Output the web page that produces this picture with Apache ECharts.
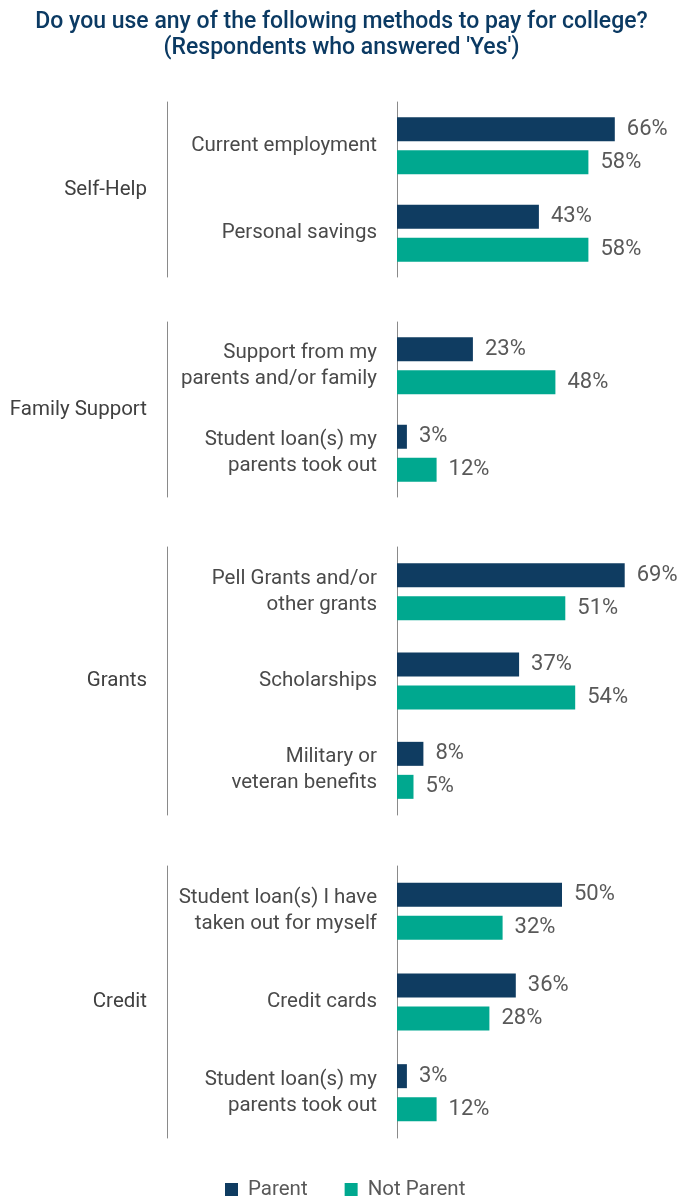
<!DOCTYPE html>
<html>
<head>
<meta charset="utf-8">
<script src="https://cdn.jsdelivr.net/npm/echarts@6/dist/echarts.min.js"></script>
<style>
html,body{margin:0;padding:0;background:#fff;}
#c{width:683px;height:1199px;}
</style>
</head>
<body>
<div id="c"></div>
<script>
// ---- data ----
const titleText = "Do you use any of the following methods to pay for college?\n(Respondents who answered 'Yes')";
const seriesNames = ['Parent', 'Not Parent'];
const groupNames = ['Self-Help', 'Family Support', 'Grants', 'Credit'];

const selfHelpCats = ['Current employment', 'Personal savings'];
const selfHelpParent = [66, 43];
const selfHelpNotParent = [58, 58];

const familyCats = ['Support from my\nparents and/or family', 'Student loan(s) my\nparents took out'];
const familyParent = [23, 3];
const familyNotParent = [48, 12];

const grantsCats = ['Pell Grants and/or\nother grants', 'Scholarships', 'Military or\nveteran benefits'];
const grantsParent = [69, 37, 8];
const grantsNotParent = [51, 54, 5];

const creditCats = ['Student loan(s) I have\ntaken out for myself', 'Credit cards', 'Student loan(s) my\nparents took out'];
const creditParent = [50, 36, 3];
const creditNotParent = [32, 28, 12];

// ---- layout / style ----
const FONT = 'Roboto';
const NAVY = '#0f3c61';
const TEAL = '#00a88f';
const LINE = '#8a8a8a';

const groups = [
  { name: groupNames[0], cats: selfHelpCats, p: selfHelpParent, np: selfHelpNotParent, top: 102, height: 175 },
  { name: groupNames[1], cats: familyCats, p: familyParent, np: familyNotParent, top: 322, height: 175 },
  { name: groupNames[2], cats: grantsCats, p: grantsParent, np: grantsNotParent, top: 547, height: 268 },
  { name: groupNames[3], cats: creditCats, p: creditParent, np: creditNotParent, top: 866, height: 272 }
];

const grid = [], xAxis = [], yAxis = [], series = [];
groups.forEach((g, i) => {
  grid.push({ left: 397, width: 264, top: g.top, height: g.height, outerBoundsMode: 'none', containLabel: false });
  xAxis.push({ gridIndex: i, type: 'value', min: 0, max: 80, show: false, splitLine: { show: false } });
  yAxis.push({
    gridIndex: i, type: 'category', data: g.cats, inverse: true, position: 'left',
    axisLine: { show: true, lineStyle: { color: LINE, width: 1 } },
    axisTick: { show: false },
    axisLabel: { margin: 20, fontFamily: FONT, fontSize: 20.5, color: '#4a4a4a', lineHeight: 26, align: 'right' }
  });
  yAxis.push({
    gridIndex: i, type: 'category', data: [g.name], position: 'left', offset: 230,
    axisLine: { show: true, lineStyle: { color: LINE, width: 1 } },
    axisTick: { show: false },
    axisLabel: { margin: 20, fontFamily: FONT, fontSize: 20.5, color: '#404040' }
  });
  const lbl = { show: true, position: 'right', distance: 12, formatter: '{c}%', fontFamily: FONT, fontSize: 22, color: '#595959' };
  series.push({
    name: seriesNames[0], type: 'bar', xAxisIndex: i, yAxisIndex: i * 2, data: g.p,
    barWidth: 24, barGap: '37.5%', itemStyle: { color: NAVY }, label: lbl, silent: true
  });
  series.push({
    name: seriesNames[1], type: 'bar', xAxisIndex: i, yAxisIndex: i * 2, data: g.np,
    barWidth: 24, barGap: '37.5%', itemStyle: { color: TEAL }, label: lbl, silent: true
  });
});

const chart = echarts.init(document.getElementById('c'), null, { renderer: 'canvas' });
chart.setOption({
  animation: false,
  backgroundColor: '#ffffff',
  title: {
    text: titleText, left: 'center', top: 4,
    textStyle: { fontFamily: FONT, fontSize: 23, fontWeight: 500, color: '#0b3a63', lineHeight: 26 }
  },
  legend: {
    data: seriesNames, left: 225, top: 1179, padding: 0,
    icon: 'rect', itemWidth: 13, itemHeight: 13, itemGap: 37,
    textStyle: { fontFamily: FONT, fontSize: 20.5, color: '#595959', padding: [0, 0, 0, 5] }
  },
  grid, xAxis, yAxis, series
});
</script>
</body>
</html>
